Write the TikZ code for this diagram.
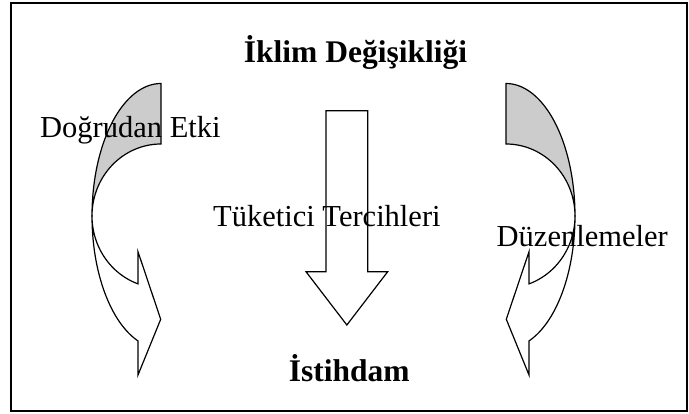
\documentclass[tikz,border=0pt]{standalone}
\usepackage{fontspec}
\setmainfont{Liberation Serif}
\newcommand\mycurvedarrow{%
  \filldraw[shapeline, fill=black!20]
    plot[domain=-90:-180, samples=60, variable=\q] ({161+69*cos(\q)},{216+132.5*sin(\q)})
    -- plot[domain=-180:-90, samples=60, variable=\q] ({161+69*cos(\q)},{216+72*sin(\q)})
    -- cycle;
  \filldraw[shapeline, fill=white]
    plot[domain=180:109.5, samples=60, variable=\q] ({161+69*cos(\q)},{216+72*sin(\q)})
    -- (138,251.7) -- (160.7,319.3) -- (138,375) -- (138,341)
    -- plot[domain=109.5:180, samples=60, variable=\q] ({161+69*cos(\q)},{216+132.5*sin(\q)})
    -- cycle;
}
\begin{document}
\begin{tikzpicture}[x=1pt, y=-1pt,
  shapeline/.style={draw=black, line width=1.2pt, line join=miter},
  lbl/.style={anchor=base west, inner sep=0pt, font=\fontsize{30.5}{36}\selectfont},
  blbl/.style={anchor=base, inner sep=0pt, font=\fontsize{31.5}{38}\selectfont\bfseries}]
\useasboundingbox (0,0) rectangle (689,414);
\draw[line width=1.8pt] (11,3) rectangle (687,411);
% left curved arrow
\mycurvedarrow
% right curved arrow (mirror)
\begin{scope}[shift={(667,0)}, xscale=-1]
  \mycurvedarrow
\end{scope}
% central straight arrow
\filldraw[shapeline, fill=white] (326,110.7) -- (367.7,110.7) -- (367.7,271.7) -- (387.7,271.7)
  -- (346.85,325) -- (306,271.7) -- (326,271.7) -- cycle;
% labels
\node[blbl] (title) at (355.5,63) {İklim Değişikliği};
\node[lbl] (direct) at (40,138) {Doğrudan Etki};
\node[lbl] (cons) at (213,226.7) {Tüketici Tercihleri};
\node[lbl] (reg) at (496.5,246.7) {Düzenlemeler};
\node[blbl] (emp) at (349.2,381.7) {İstihdam};
\end{tikzpicture}
\end{document}
